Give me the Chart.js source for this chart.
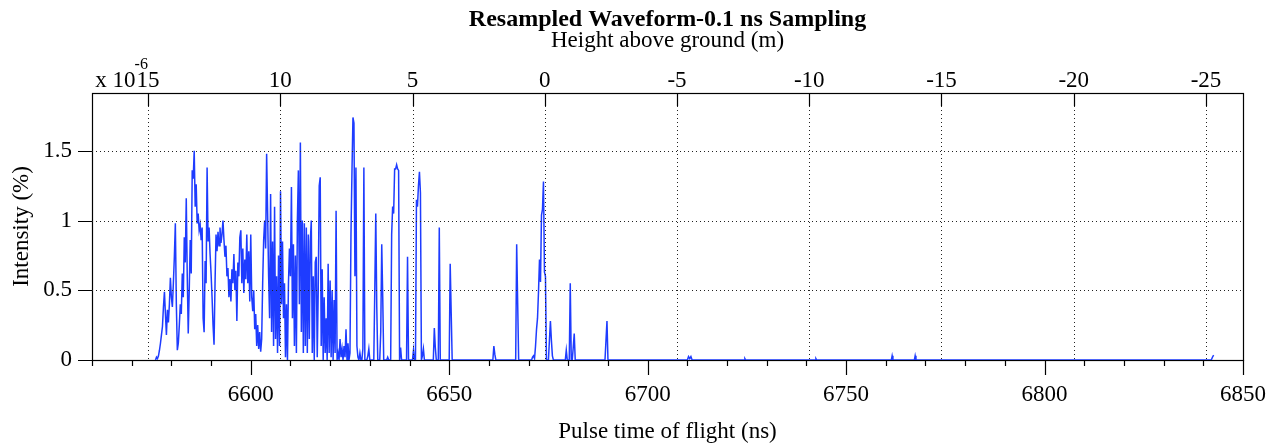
<!DOCTYPE html>
<html>
<head>
<meta charset="utf-8">
<title>Resampled Waveform</title>
<script src="https://cdn.jsdelivr.net/npm/chart.js@4"></script>
<style>
  html, body { margin: 0; padding: 0; background: #fff; overflow: hidden; }
  #wrap { width: 1277px; height: 444px; position: relative; }
  #wrap canvas { display: block; }
</style>
</head>
<body>
<div id="wrap"><canvas id="waveChart"></canvas></div>
<script>
// sampling grid of the hand-read burst (ns)
const sampleStep = 0.25;

// first burst, 6576 -> 6636.75 ns, intensity in %
const segAStart = 6576.0;
const segA = [
  0, 0.02, 0.01, 0.03, 0.07, 0.12, 0.18, 0.24, 0.38, 0.49,
  0.33, 0.18, 0.36, 0.27, 0.40, 0.59, 0.45, 0.38, 0.55, 0.74,
  0.98, 0.40, 0.07, 0.12, 0.25, 0.40, 0.33, 0.62, 0.45, 0.88,
  0.70, 1.16, 0.60, 0.19, 0.50, 0.86, 0.62, 1.36, 1.30, 1.50,
  1.10, 1.26, 0.98, 1.05, 0.93, 0.97, 0.86, 0.95, 0.30, 0.20,
  0.71, 0.55, 1.38, 0.85, 0.95, 0.76, 0.62, 0.45, 0.25, 0.11,
  0.55, 0.90, 0.78, 0.92, 0.82, 0.95, 0.84, 0.90, 1.00, 0.86,
  0.74, 0.82, 0.60, 0.66, 0.45, 0.58, 0.42, 0.65, 0.55, 0.76,
  0.50, 0.64, 0.28, 0.70, 0.60, 0.88, 0.93, 0.55, 0.80, 0.48,
  0.72, 0.58, 0.90, 0.55, 0.78, 0.42, 0.90, 0.45, 0.35, 0.50,
  0.22, 0.33, 0.10, 0.25, 0.08, 0.20, 0.06, 0.15, 0.55, 0.86,
  1.00, 0.80, 1.48, 1.05, 0.60, 0.30,
  1.19, 0.20, 0.85, 0.10, 1.10, 0.15, 0.60, 0.05, 0.75, 0.10,
  1.21, 0.40, 0.85, 0.30, 0.55, 0.02, 0.40, 0.0, 0.55, 0.80,
  0.60, 1.24, 0.30, 0.83, 0.10, 0.75, 0.05, 1.00, 1.36, 0.40,
  1.56, 0.20, 1.00, 0.05, 0.98, 0.10, 0.95, 0.05, 0.90, 0.15,
  0.85, 1.00, 0.05, 0.60, 0.0, 0.70, 0.74, 0.02, 0.50, 1.25,
  1.31, 0.10, 0.65, 0.0, 0.45, 0.05, 0.30, 0.0, 0.69, 0.05,
  0.57, 0.02, 0.50, 0.0, 0.43, 0.05, 1.07, 0.0, 0.05, 0.0,
  0.15, 0.02, 0.08, 0.0, 0.10, 0.02, 0.22, 0.0, 0.12, 0.0,
  0.05, 0.90, 1.35, 1.74, 1.70, 0.60, 1.38, 0.10, 0.02, 0.0,
  0.05, 0.0, 0.0, 0.08, 1.38, 0.0, 0.0, 0.0, 0.03, 0.08,
  0.0, 0.0, 0.0, 0.0, 0.0, 0.50, 1.05, 0.38, 0.0, 0.0,
  0.0, 0.20, 0.83, 0.45, 0.0, 0.0, 0.0, 0.0, 0.02, 0.0,
  0.0, 0.0, 0.90, 1.10, 1.05, 1.37, 1.37, 1.40
];

// sparse part, 6637 -> 6690.75 ns
const segBStart = 6637.0;
const segB = [
  1.37, 1.36, 0, 0.09, 0, 0, 0, 0, 0, 0,
  0.74, 0, 0, 0, 0, 0, 0.07, 0, 0, 1.15,
  1.10, 1.25, 1.35, 1.20, 0, 0.03, 0.08, 0, 0, 0,
  0, 0, 0, 0, 0, 0, 0, 0.23, 0.09, 0,
  0, 0, 0.95, 0, 0, 0, 0, 0, 0, 0,
  0, 0, 0, 0.69, 0.34, 0, 0, 0, 0, 0,
  0, 0, 0, 0, 0, 0, 0, 0, 0, 0,
  0, 0, 0, 0, 0, 0, 0, 0, 0, 0,
  0, 0, 0, 0, 0, 0, 0, 0, 0, 0,
  0, 0, 0, 0, 0, 0, 0, 0.10, 0.04, 0,
  0, 0, 0, 0, 0, 0, 0, 0, 0, 0,
  0, 0, 0, 0, 0, 0, 0, 0, 0, 0,
  0.83, 0.41, 0, 0, 0, 0, 0, 0, 0, 0,
  0, 0, 0, 0, 0, 0, 0.02, 0.03, 0.01, 0.10,
  0.22, 0.30, 0.49, 0.72, 0.56, 1.04, 1.08, 1.28, 0.63, 0.60,
  0, 0, 0, 0.14, 0.28, 0.14, 0.03, 0, 0, 0,
  0, 0, 0, 0, 0, 0, 0, 0, 0, 0,
  0.07, 0, 0, 0, 0.55, 0, 0, 0.09, 0.19, 0,
  0, 0, 0, 0, 0, 0, 0, 0, 0, 0,
  0, 0, 0, 0, 0, 0, 0, 0, 0, 0,
  0, 0, 0, 0, 0, 0, 0, 0, 0, 0,
  0.14, 0.28, 0, 0, 0, 0
];

// tiny blips on the flat tail
const tailTimes = [6710.0, 6710.3, 6710.6, 6710.9, 6711.2, 6711.5, 6724.3, 6724.5, 6724.7,
  6742.2, 6742.4, 6742.6, 6761.4, 6761.6, 6761.8, 6767.2, 6767.4, 6767.6, 6842.0, 6842.3, 6842.6];
const tailValues = [0, 0.025, 0.01, 0.025, 0, 0, 0, 0.01, 0,
  0, 0.01, 0, 0, 0.03, 0, 0, 0.03, 0, 0, 0.02, 0.035];

// axis ranges
const timeRange = [6560, 6850];
const heightRange = [-26.4, 17.12];
const intensityMax = 1.915;

const points = [];
segA.forEach((v, i) => points.push({ x: segAStart + i * sampleStep, y: v }));
segB.forEach((v, i) => points.push({ x: segBStart + i * sampleStep, y: v }));
tailTimes.forEach((t, i) => points.push({ x: t, y: tailValues[i] }));

const serif = "'Liberation Serif', 'Times New Roman', serif";
const fontSize = 23;
Chart.defaults.font.family = serif;
Chart.defaults.color = '#000';

// frame, tick marks, dotted grid on top of the trace, exponent note
const axisDecor = {
  id: 'axisDecor',
  beforeDatasetsDraw(chart) {
    const { ctx, chartArea: a, scales } = chart;
    ctx.save();
    ctx.strokeStyle = '#000';
    ctx.lineWidth = 1.2;
    ctx.strokeRect(Math.round(a.left) + 0.5, Math.round(a.top) + 0.5,
      Math.round(a.right - a.left), Math.round(a.bottom - a.top));
    ctx.beginPath();
    // bottom ticks
    scales.x.ticks.forEach(t => {
      const px = Math.round(scales.x.getPixelForValue(t.value)) + 0.5;
      const len = t.value % 50 === 0 ? 15 : 6;
      ctx.moveTo(px, a.bottom);
      ctx.lineTo(px, a.bottom + len);
    });
    // left ticks
    scales.y.ticks.forEach(t => {
      const py = Math.round(scales.y.getPixelForValue(t.value)) + 0.5;
      ctx.moveTo(a.left - 14, py);
      ctx.lineTo(a.left, py);
    });
    // top ticks (inside)
    scales.x2.ticks.forEach(t => {
      const px = Math.round(scales.x2.getPixelForValue(t.value)) + 0.5;
      ctx.moveTo(px, a.top);
      ctx.lineTo(px, a.top + 13);
    });
    ctx.stroke();
    ctx.restore();
  },
  afterDatasetsDraw(chart) {
    const { ctx, chartArea: a, scales } = chart;
    ctx.save();
    ctx.strokeStyle = '#222';
    ctx.lineWidth = 1;
    ctx.setLineDash([1, 3]);
    ctx.beginPath();
    scales.y.ticks.forEach(t => {
      if (t.value === 0) return;
      const py = Math.round(scales.y.getPixelForValue(t.value)) + 0.5;
      ctx.moveTo(a.left, py);
      ctx.lineTo(a.right, py);
    });
    scales.x2.ticks.forEach(t => {
      const px = Math.round(scales.x2.getPixelForValue(t.value)) + 0.5;
      ctx.moveTo(px, a.top + 13);
      ctx.lineTo(px, a.bottom);
    });
    ctx.stroke();
    ctx.restore();
  },
  afterDraw(chart) {
    const { ctx, chartArea: a, scales } = chart;
    ctx.save();
    ctx.fillStyle = '#000';
    ctx.font = fontSize + 'px ' + serif;
    const x15 = scales.x2.getPixelForValue(15);
    const right = x15 - ctx.measureText('15').width / 2;
    ctx.textAlign = 'right';
    ctx.textBaseline = 'middle';
    ctx.fillText('x 10', right - 1, a.top - 12);
    ctx.font = '16px ' + serif;
    ctx.textAlign = 'left';
    ctx.fillText('-6', right - 2, a.top - 28);
    ctx.restore();
  }
};

document.addEventListener('DOMContentLoaded', function () {
  const canvas = document.getElementById('waveChart');
  new Chart(canvas, {
    type: 'line',
    data: {
      datasets: [{
        data: points,
        borderColor: '#1e3cff',
        borderWidth: 1.5,
        pointRadius: 0,
        tension: 0,
        fill: false,
        xAxisID: 'x',
        yAxisID: 'y'
      }]
    },
    options: {
      animation: false,
      responsive: true,
      maintainAspectRatio: false,
      devicePixelRatio: 1,
      layout: { padding: { left: 0, right: 34, top: 0, bottom: 0 } },
      plugins: {
        legend: { display: false },
        tooltip: { enabled: false },
        title: {
          display: true,
          fullSize: false,
          text: 'Resampled Waveform-0.1 ns Sampling',
          color: '#000',
          font: { size: 24, weight: 'bold', lineHeight: 0.8 },
          padding: { top: 10, bottom: 0 }
        }
      },
      scales: {
        x: {
          type: 'linear',
          position: 'bottom',
          min: timeRange[0],
          max: timeRange[1],
          grid: { display: false, drawTicks: false },
          border: { display: false },
          ticks: {
            stepSize: 10,
            autoSkip: false,
            maxRotation: 0,
            padding: 0,
            font: { size: fontSize, lineHeight: 3.04 },
            callback: v => (v % 50 === 0 ? String(v) : '')
          },
          title: {
            display: true,
            text: 'Pulse time of flight (ns)',
            font: { size: fontSize, lineHeight: 1 },
            padding: { top: 0, bottom: 1 }
          },
          afterFit: s => { s.height = 84; }
        },
        x2: {
          type: 'linear',
          position: 'top',
          min: heightRange[0],
          max: heightRange[1],
          reverse: true,
          grid: { display: false, drawTicks: false },
          border: { display: false },
          ticks: {
            stepSize: 5,
            includeBounds: false,
            autoSkip: false,
            maxRotation: 0,
            padding: 0.5,
            font: { size: fontSize, lineHeight: 1 }
          },
          title: {
            display: true,
            text: 'Height above ground (m)',
            font: { size: fontSize, lineHeight: 1 },
            padding: { top: 0, bottom: 0 }
          },
          afterFit: s => { s.height = 93 - 29.2; }
        },
        y: {
          type: 'linear',
          min: 0,
          max: intensityMax,
          grid: { display: false, drawTicks: false },
          border: { display: false },
          ticks: {
            stepSize: 0.5,
            includeBounds: false,
            padding: 20,
            font: { size: fontSize },
            callback: v => String(v)
          },
          title: {
            display: true,
            text: 'Intensity (%)',
            font: { size: fontSize, lineHeight: 1 },
            padding: { top: 10, bottom: 0 }
          },
          afterFit: s => { s.width = 92; }
        }
      }
    },
    plugins: [axisDecor]
  });
});
</script>
</body>
</html>
